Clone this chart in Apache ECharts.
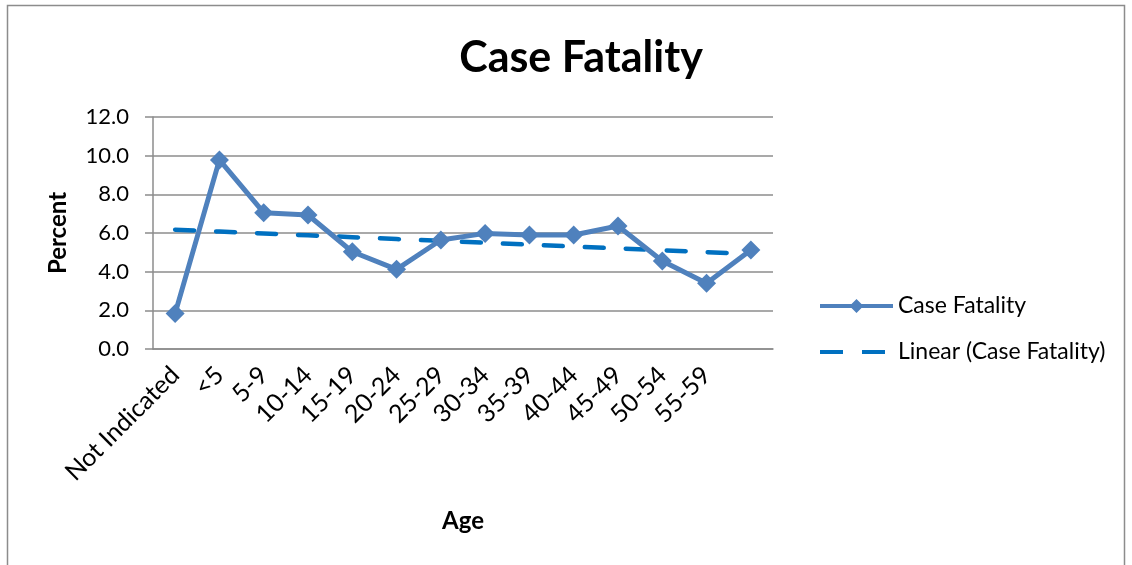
<!DOCTYPE html>
<html><head><meta charset="utf-8">
<script src="https://cdn.jsdelivr.net/npm/echarts@6/dist/echarts.min.js"></script>
<style>html,body{margin:0;padding:0;background:#fff}#c{width:1132px;height:565px}</style>
</head><body><div id="c"></div>
<script>
const categories = ["Not Indicated","<5","5-9","10-14","15-19","20-24","25-29","30-34","35-39","40-44","45-49","50-54","55-59",""];
const caseFatality = [1.84,9.78,7.05,6.93,5.03,4.12,5.64,5.98,5.9,5.9,6.36,4.55,3.4,5.12];
const yTicks = [0,2,4,6,8,10,12];

// linear trend (least squares) of caseFatality
const n = caseFatality.length;
const xm = (n - 1) / 2;
const ym = caseFatality.reduce((a, b) => a + b, 0) / n;
let sxy = 0, sxx = 0;
caseFatality.forEach((v, i) => { sxy += (i - xm) * (v - ym); sxx += (i - xm) * (i - xm); });
const slope = sxy / sxx;
const trend = caseFatality.map((v, i) => +(ym + slope * (i - xm)).toFixed(3));

const font = 'Lato, "Open Sans", sans-serif';
const iconSolid = 'path://M0,5H73V9H0Z M36.5,0L43.5,7L36.5,14L29.5,7Z';
const iconDash = 'path://M0,5H23V9H0Z M42,5H65V9H42Z M0,0H0.01V0.01H0Z M73,13.99H73.01V14H73Z';
const chart = echarts.init(document.getElementById('c'), null, {renderer: 'canvas'});
chart.setOption({
  animation: false,
  title: {text: 'Case Fatality', left: 576, top: 32, textAlign: 'center',
    textStyle: {fontFamily: font, fontSize: 43, fontWeight: 'bold', color: '#000'}},
  graphic: [{type: 'rect', shape: {x: 7.5, y: 5.5, width: 1117, height: 600},
    style: {fill: 'none', stroke: '#8c8c8c', lineWidth: 1.5}, silent: true}],
  grid: {left: 153, top: 117, right: 359, bottom: 216, containLabel: false},
  legend: {orient: 'vertical', left: 815, top: 288, itemGap: 20, itemWidth: 73, itemHeight: 14,
    textStyle: {fontFamily: font, fontSize: 23, color: '#000', lineHeight: 26},
    data: [
      {name: 'Case Fatality', icon: iconSolid, itemStyle: {color: '#4F81BD'}},
      {name: 'Linear (Case Fatality)', icon: iconDash, itemStyle: {color: '#0070C0'}}
    ]},
  xAxis: {type: 'category', data: categories, boundaryGap: true,
    name: 'Age', nameLocation: 'middle', nameGap: 160,
    nameTextStyle: {fontFamily: font, fontSize: 24, fontWeight: 'bold', color: '#000'},
    axisLine: {lineStyle: {color: '#8c8c8c', width: 1.5}},
    axisTick: {show: false},
    axisLabel: {rotate: 45, interval: 0, fontFamily: font, fontSize: 25, color: '#000', margin: 22}},
  yAxis: {type: 'value', min: 0, max: 12, interval: 2,
    name: 'Percent', nameLocation: 'middle', nameGap: 83,
    nameTextStyle: {fontFamily: font, fontSize: 24, fontWeight: 'bold', color: '#000'},
    axisLine: {show: true, lineStyle: {color: '#8c8c8c', width: 1.5}},
    axisTick: {show: true, length: 8, inside: false, lineStyle: {color: '#8c8c8c', width: 1.5}},
    axisLabel: {fontFamily: font, fontSize: 22, color: '#000', margin: 24,
      formatter: v => yTicks.includes(v) ? v.toFixed(1) : ''},
    splitLine: {lineStyle: {color: '#8c8c8c', width: 1.5}}},
  series: [
    {name: 'Case Fatality', type: 'line', data: caseFatality, z: 3,
      symbol: 'diamond', symbolSize: 19,
      lineStyle: {color: '#4F81BD', width: 5},
      itemStyle: {color: '#4F81BD'}},
    {name: 'Linear (Case Fatality)', type: 'line', data: trend, z: 2,
      symbol: 'none',
      lineStyle: {color: '#0070C0', width: 4.5, type: [19, 22], cap: 'round'},
      itemStyle: {color: '#0070C0'}}
  ]
});
</script></body></html>
